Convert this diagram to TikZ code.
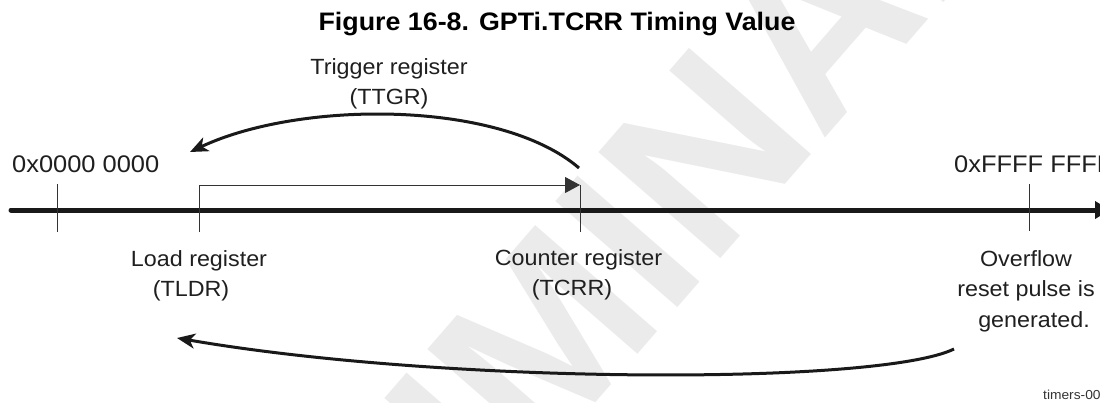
\documentclass[tikz,border=0pt]{standalone}
\usepackage{fontspec}
\setmainfont{Liberation Sans}[FakeStretch=1.06]
\newfontfamily\wmfont{Liberation Sans}
\usetikzlibrary{arrows.meta}
\begin{document}
\begin{tikzpicture}[x=1bp,y=-1bp,
  lbl/.style={font=\fontsize{22bp}{30.5bp}\selectfont, text=black!88, inner sep=0pt, align=center, anchor=north},
  hex/.style={font=\fontsize{24bp}{28bp}\selectfont, text=black!88, inner sep=0pt, anchor=base west},
  ttl/.style={font=\fontsize{25.3bp}{30bp}\bfseries\selectfont, text=black, inner sep=0pt, anchor=base},
  tag/.style={font=\fontsize{13bp}{15bp}\selectfont, text=black!80, inner sep=0pt, anchor=base west},
  wm/.style={font=\wmfont\fontsize{235bp}{240bp}\bfseries\selectfont, text=black!8, inner sep=0pt, anchor=base west},
  tick/.style={line width=1bp, draw=black!80},
  axisline/.style={line width=5bp, draw=black!90, line cap=round, -{Triangle[length=15bp,width=17bp]}},
  bentarrow/.style={line width=3bp, draw=black!90, -{Stealth[length=18bp,width=15bp,inset=5bp]}},
]
\useasboundingbox (0,0) rectangle (1100,402);
% watermark
\node[wm, rotate=49] (wmark) at (85,990) {PRELIMINARY};

% title
\node[ttl] (title) at (557,30) {Figure 16-8. GPTi.TCRR Timing Value};

% axis
\coordinate (axL) at (11,210);
\coordinate (axR) at (1110,210);
\draw[axisline] (axL) -- (axR);

% ticks
\coordinate (zTop) at (57,184);
\coordinate (zBot) at (57,232);
\draw[tick] (zTop) -- (zBot);
\coordinate (ldBot) at (199,232);
\coordinate (ldTop) at (199,185);
\coordinate (crTop) at (580,185);
\coordinate (crBot) at (580,232);
\draw[tick, -{Triangle[length=15bp,width=16bp]}] (ldBot) -- (ldTop) -- (crTop);
\draw[tick] (crTop) -- (crBot);
\coordinate (ffTop) at (1029,184);
\coordinate (ffBot) at (1029,231);
\draw[tick] (ffTop) -- (ffBot);

% labels
\node[hex] (lo) at (12,172) {0x0000 0000};
\node[hex] (hi) at (954,172) {0xFFFF FFFF};
\node[lbl] (ttgr) at (389,58.3) {Trigger register\\(TTGR)};
\node[lbl] (tldr) at (199,250.3) {Load register\\(TLDR)\hspace*{16bp}};
\node[lbl] (tcrr) at (578.5,249) {Counter register\\(TCRR)\hspace*{13bp}};
\node[lbl] (ovf) at (1026,250) {Overflow\\reset pulse is\\\hspace*{16bp}generated.};
\node[tag] (fig) at (1043,399) {timers-008};

% curved arrows
\coordinate (tgS) at (579,168);
\coordinate (tgE) at (190,152);
\draw[bentarrow] (tgS) .. controls (500,100) and (300,100) .. (tgE);
\coordinate (ovS) at (954,349);
\coordinate (ovE) at (177,338);
\draw[bentarrow] (ovS) .. controls (880,385) and (450,385) .. (ovE);
\end{tikzpicture}
\end{document}
